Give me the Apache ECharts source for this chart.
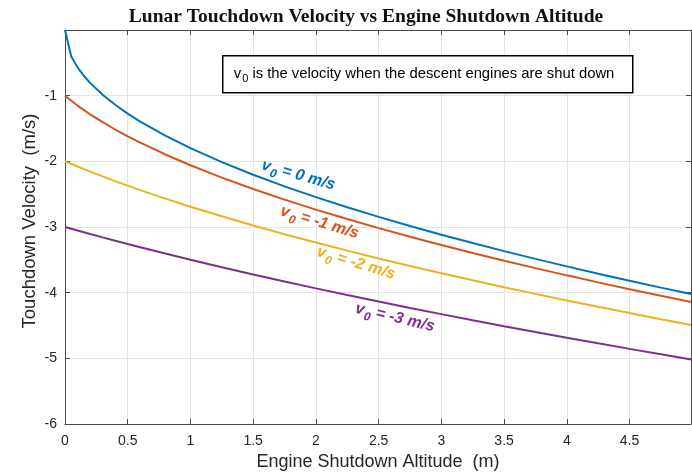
<!DOCTYPE html>
<html>
<head>
<meta charset="utf-8">
<script src="https://cdn.jsdelivr.net/npm/echarts@6/dist/echarts.min.js"></script>
<style>
  html, body { margin: 0; padding: 0; background: #fff; }
  #chart { width: 692px; height: 474px; }
</style>
</head>
<body>
<div id="chart"></div>
<script>
// Engine shutdown altitude (m)
const altitude = [0, 0.05, 0.1, 0.15, 0.2, 0.3, 0.4, 0.5, 0.6, 0.8, 1, 1.25, 1.5, 1.75,
  2, 2.25, 2.5, 2.75, 3, 3.25, 3.5, 3.75, 4, 4.25, 4.5, 4.75, 4.99];

// Touchdown velocity (m/s) for each shutdown velocity v0
const velV0_0 = [0, -0.4025, -0.5692, -0.6971, -0.8050, -0.9859, -1.1384, -1.2728, -1.3943,
  -1.6100, -1.8, -2.0125, -2.2045, -2.3812, -2.5456, -2.7, -2.8460, -2.9850, -3.1177,
  -3.2450, -3.3675, -3.4857, -3.6, -3.7108, -3.8184, -3.9230, -4.0209];
const velV0_1 = [-1, -1.0780, -1.1507, -1.2190, -1.2837, -1.4043, -1.5153, -1.6186, -1.7158,
  -1.8953, -2.0591, -2.2472, -2.4207, -2.5826, -2.7350, -2.8792, -3.0166, -3.1480, -3.2741,
  -3.3956, -3.5128, -3.6263, -3.7363, -3.8432, -3.9471, -4.0485, -4.1434];
const velV0_2 = [-2, -2.0401, -2.0794, -2.1180, -2.1559, -2.2298, -2.3013, -2.3707, -2.4380,
  -2.5675, -2.6907, -2.8373, -2.9766, -3.1097, -3.2373, -3.3601, -3.4785, -3.5930, -3.7041,
  -3.8118, -3.9166, -4.0187, -4.1182, -4.2154, -4.3104, -4.4034, -4.4908];
const velV0_3 = [-3, -3.0269, -3.0535, -3.0799, -3.1061, -3.1578, -3.2087, -3.2588, -3.3082,
  -3.4047, -3.4986, -3.6125, -3.7229, -3.8301, -3.9345, -4.0361, -4.1352, -4.2320, -4.3267,
  -4.4193, -4.5100, -4.5989, -4.6861, -4.7718, -4.8559, -4.9386, -5.0167];

const seriesNames = ['0', '-1', '-2', '-3'];
const xTicks = [0, 0.5, 1, 1.5, 2, 2.5, 3, 3.5, 4, 4.5];
const yTicks = [-6, -5, -4, -3, -2, -1];

const colors = ['#0072BD', '#D95319', '#EDB120', '#7E2F8E'];
const allSeries = [velV0_0, velV0_1, velV0_2, velV0_3];

// Where each in-plot curve label sits (data units) and its tilt (degrees)
const curveLabels = [
  { at: [1.86, -2.21], tilt: 16 },
  { at: [2.03, -2.93], tilt: 17 },
  { at: [2.32, -3.55], tilt: 17 },
  { at: [2.63, -4.38], tilt: 13.5 }
];

const FONT = '"Liberation Sans", Arial, sans-serif';
const INK = '#262626';
const AXIS = '#4a4a4a';

const chart = echarts.init(document.getElementById('chart'));

const xFmt = v => (xTicks.some(t => Math.abs(t - v) < 1e-6) ? String(v) : '');
const yFmt = v => (yTicks.includes(v) ? String(v) : '');

const option = {
  animation: false,
  backgroundColor: '#fff',
  title: {
    text: 'Lunar Touchdown Velocity vs Engine Shutdown Altitude',
    left: 361, top: 2, textAlign: 'center',
    textStyle: { fontFamily: '"Liberation Serif", "Times New Roman", serif', fontWeight: 'bold', fontSize: 19.5, color: '#111' }
  },
  grid: { left: 65, right: 1, top: 30, bottom: 50 },
  xAxis: [{
    type: 'value', min: 0, max: 4.99, interval: 0.5,
    axisLine: { show: true, onZero: false, lineStyle: { color: AXIS, width: 1 } },
    axisTick: { show: true, inside: true, length: 5, lineStyle: { color: AXIS } },
    axisLabel: { formatter: xFmt, fontFamily: FONT, fontSize: 14, color: INK, margin: 10, showMaxLabel: false },
    splitLine: { show: true, lineStyle: { color: '#e3e3e3', width: 1 } }
  }, {
    type: 'value', min: 0, max: 4.99, interval: 0.5, position: 'top',
    axisLine: { show: true, onZero: false, lineStyle: { color: AXIS, width: 1 } },
    axisTick: { show: true, inside: true, length: 5, lineStyle: { color: AXIS } },
    axisLabel: { show: false }, splitLine: { show: false }
  }],
  yAxis: [{
    type: 'value', min: -6, max: 0, interval: 1,
    axisLine: { show: true, onZero: false, lineStyle: { color: AXIS, width: 1 } },
    axisTick: { show: true, inside: true, length: 5, lineStyle: { color: AXIS } },
    axisLabel: { formatter: yFmt, fontFamily: FONT, fontSize: 14, color: INK, margin: 8 },
    splitLine: { show: true, lineStyle: { color: '#e3e3e3', width: 1 } }
  }, {
    type: 'value', min: -6, max: 0, interval: 1, position: 'right',
    axisLine: { show: true, onZero: false, lineStyle: { color: AXIS, width: 1 } },
    axisTick: { show: true, inside: true, length: 5, lineStyle: { color: AXIS } },
    axisLabel: { show: false }, splitLine: { show: false }
  }],
  series: allSeries.map((vals, i) => ({
    type: 'line',
    name: 'v0 = ' + seriesNames[i] + ' m/s',
    data: altitude.map((h, k) => [h, vals[k]]),
    showSymbol: false,
    smooth: false,
    lineStyle: { color: colors[i], width: 2 },
    z: 3
  }))
};
chart.setOption(option);

// Axis titles, annotation box and tilted curve labels
const graphics = [{
  type: 'text', x: 378, y: 462, z: 10,
  style: { text: 'Engine Shutdown Altitude  (m)', fontFamily: FONT, fontSize: 18, fill: INK, align: 'center', verticalAlign: 'middle' }
}, {
  type: 'text', x: 30, y: 221, rotation: Math.PI / 2, z: 10,
  style: { text: 'Touchdown Velocity  (m/s)', fontFamily: FONT, fontSize: 18.5, fill: INK, align: 'center', verticalAlign: 'middle' }
}, {
  type: 'group', left: 222, top: 55, z: 10,
  children: [{
    type: 'rect', shape: { x: 0, y: 0, width: 410, height: 37 },
    style: { fill: '#fff', stroke: '#000', lineWidth: 1.5 }
  }, {
    type: 'text', x: 11, y: 18,
    style: {
      text: '{v|v}{s|0}{t| is the velocity when the descent engines are shut down}',
      verticalAlign: 'middle',
      rich: {
        v: { fontFamily: FONT, fontSize: 14.8, fill: '#000', lineHeight: 22, verticalAlign: 'middle' },
        s: { fontFamily: FONT, fontSize: 11, fill: '#000', lineHeight: 22, padding: [11, 0, 0, 1], verticalAlign: 'middle' },
        t: { fontFamily: FONT, fontSize: 14.8, fill: '#000', lineHeight: 22, verticalAlign: 'middle' }
      }
    }
  }]
}];

curveLabels.forEach((lab, i) => {
  const p = chart.convertToPixel({ gridIndex: 0 }, lab.at);
  const base = { fontFamily: FONT, fontSize: 16, fontWeight: 'bold', fontStyle: 'italic', fill: colors[i], lineHeight: 24, verticalAlign: 'middle' };
  graphics.push({
    type: 'text', x: p[0], y: p[1], rotation: -lab.tilt * Math.PI / 180, z: 11,
    style: {
      text: '{v|v}{s|0}{t| = ' + seriesNames[i] + ' m/s}',
      align: 'center', verticalAlign: 'middle',
      rich: {
        v: base,
        s: Object.assign({}, base, { fontSize: 12, padding: [12, 0, 0, 1] }),
        t: base
      }
    }
  });
});

chart.setOption({ graphic: graphics });
</script>
</body>
</html>
